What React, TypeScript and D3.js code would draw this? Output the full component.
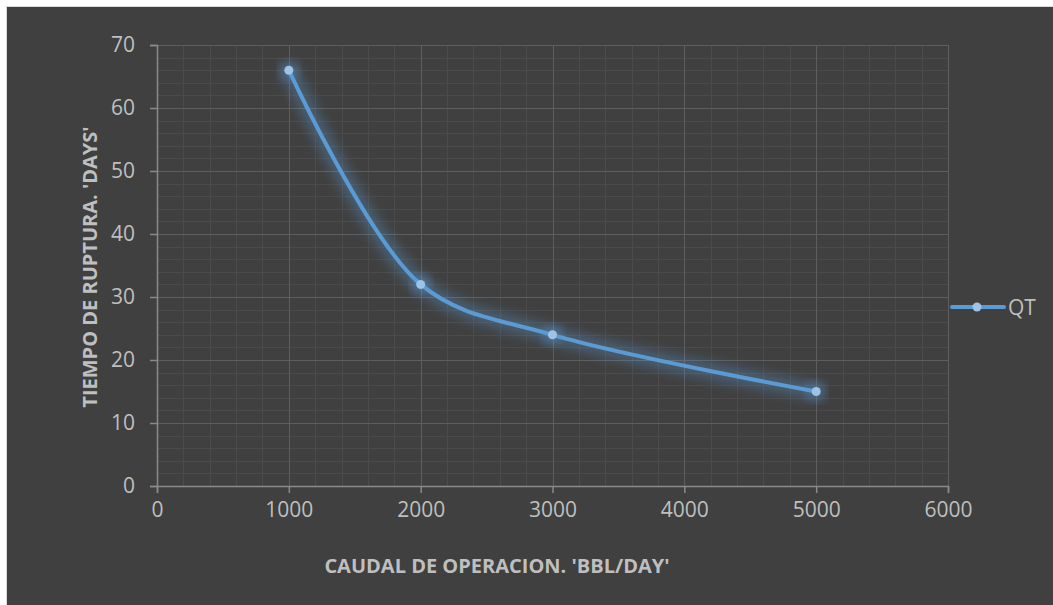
import { useEffect, useRef } from 'react';
import * as d3 from 'd3';

const WIDTH = 1053;
const HEIGHT = 605;

// series QT
const caudal = [1000, 2000, 3000, 5000];
const tiempo = [66, 32, 24, 15];
const seriesName = 'QT';

const xTicks = [0, 1000, 2000, 3000, 4000, 5000, 6000];
const yTicks = [0, 10, 20, 30, 40, 50, 60, 70];

const xTitle = "CAUDAL DE OPERACION. 'BBL/DAY'";
const yTitle = "TIEMPO DE RUPTURA. 'DAYS'";

const PLOT = { left: 157, right: 948, top: 45, bottom: 486 };
const FONT = '"Open Sans", "Liberation Sans", sans-serif';
const LINE = '#5b9bd5';
const TEXT = '#bfbfbf';

export default function App() {
  const svgRef = useRef<SVGSVGElement>(null);

  useEffect(() => {
    if (!svgRef.current) return;
    const svg = d3.select(svgRef.current);
    svg.selectAll('*').remove();

    const x = d3.scaleLinear().domain([0, 6000]).range([PLOT.left, PLOT.right]);
    const y = d3.scaleLinear().domain([0, 70]).range([PLOT.bottom, PLOT.top]);

    const defs = svg.append('defs');
    const glow = defs
      .append('filter')
      .attr('id', 'glow')
      .attr('x', '-20%')
      .attr('y', '-20%')
      .attr('width', '140%')
      .attr('height', '140%');
    glow.append('feGaussianBlur').attr('stdDeviation', 6);

    // background + frame
    svg.append('rect').attr('width', WIDTH).attr('height', HEIGHT).attr('fill', '#ffffff');
    svg
      .append('rect')
      .attr('x', 6.5)
      .attr('y', 6.5)
      .attr('width', WIDTH + 10)
      .attr('height', HEIGHT + 10)
      .attr('fill', '#404040')
      .attr('stroke', '#d9d9d9')
      .attr('stroke-width', 1);

    const g = svg.append('g');

    // minor grid
    const xMinor = d3.range(0, 6001, 200).filter((v) => v % 1000 !== 0);
    const yMinor = d3.range(0, 70.1, 2).filter((v) => v % 10 !== 0);
    g.selectAll('.xminor')
      .data(xMinor)
      .join('line')
      .attr('x1', (d) => Math.round(x(d)) + 0.5)
      .attr('x2', (d) => Math.round(x(d)) + 0.5)
      .attr('y1', PLOT.top)
      .attr('y2', PLOT.bottom)
      .attr('stroke', '#4b4b4b')
      .attr('stroke-width', 1);
    g.selectAll('.yminor')
      .data(yMinor)
      .join('line')
      .attr('x1', PLOT.left)
      .attr('x2', PLOT.right)
      .attr('y1', (d) => Math.round(y(d)) + 0.5)
      .attr('y2', (d) => Math.round(y(d)) + 0.5)
      .attr('stroke', '#4b4b4b')
      .attr('stroke-width', 1);

    // major grid
    g.selectAll('.xmajor')
      .data(xTicks.slice(1))
      .join('line')
      .attr('x1', (d) => Math.round(x(d)) + 0.5)
      .attr('x2', (d) => Math.round(x(d)) + 0.5)
      .attr('y1', PLOT.top)
      .attr('y2', PLOT.bottom)
      .attr('stroke', '#5e5e5e')
      .attr('stroke-width', 1);
    g.selectAll('.ymajor')
      .data(yTicks.slice(1))
      .join('line')
      .attr('x1', PLOT.left)
      .attr('x2', PLOT.right)
      .attr('y1', (d) => Math.round(y(d)) + 0.5)
      .attr('y2', (d) => Math.round(y(d)) + 0.5)
      .attr('stroke', '#5e5e5e')
      .attr('stroke-width', 1);

    // axes
    const xAxis = g
      .append('g')
      .attr('transform', `translate(0,${PLOT.bottom})`)
      .call(d3.axisBottom(x).tickValues(xTicks).tickSize(7).tickPadding(9).tickFormat(d3.format('d')));
    const yAxis = g
      .append('g')
      .attr('transform', `translate(${PLOT.left},0)`)
      .call(d3.axisLeft(y).tickValues(yTicks).tickSize(7).tickPadding(15).tickFormat(d3.format('d')));
    [xAxis, yAxis].forEach((a) => {
      a.select('.domain').attr('stroke', '#8a8a8a').attr('stroke-width', 1.5);
      a.selectAll('.tick line').attr('stroke', '#8a8a8a').attr('stroke-width', 1.5);
      a.selectAll('.tick text')
        .attr('fill', TEXT)
        .style('font-family', FONT)
        .style('font-size', '21px');
    });

    // axis titles
    svg
      .append('text')
      .attr('x', 497)
      .attr('y', 573)
      .attr('text-anchor', 'middle')
      .attr('fill', TEXT)
      .style('font-family', FONT)
      .style('font-size', '20px')
      .style('font-weight', 'bold')
      .text(xTitle);
    svg
      .append('text')
      .attr('transform', 'translate(97,267) rotate(-90)')
      .attr('text-anchor', 'middle')
      .attr('fill', TEXT)
      .style('font-family', FONT)
      .style('font-size', '20px')
      .style('font-weight', 'bold')
      .text(yTitle);

    // series
    const pts: [number, number][] = caudal.map((c, i) => [c, tiempo[i]]);
    const line = d3
      .line<[number, number]>()
      .x((d) => x(d[0]))
      .y((d) => y(d[1]))
      .curve(d3.curveCatmullRom.alpha(0.5));

    g.append('path')
      .attr('d', line(pts))
      .attr('fill', 'none')
      .attr('stroke', LINE)
      .attr('stroke-width', 16)
      .attr('stroke-opacity', 0.35)
      .attr('filter', 'url(#glow)');
    g.selectAll('.glowdot')
      .data(pts)
      .join('circle')
      .attr('cx', (d) => x(d[0]))
      .attr('cy', (d) => y(d[1]))
      .attr('r', 9)
      .attr('fill', LINE)
      .attr('opacity', 0.5)
      .attr('filter', 'url(#glow)');
    g.append('path')
      .attr('d', line(pts))
      .attr('fill', 'none')
      .attr('stroke', LINE)
      .attr('stroke-width', 4)
      .attr('stroke-linecap', 'round');
    g.selectAll('.dot')
      .data(pts)
      .join('circle')
      .attr('cx', (d) => x(d[0]))
      .attr('cy', (d) => y(d[1]))
      .attr('r', 4.5)
      .attr('fill', '#9dc3e6');

    // legend
    const lg = svg.append('g').attr('transform', 'translate(950,307)');
    lg.append('line')
      .attr('x1', 2)
      .attr('x2', 54)
      .attr('stroke', LINE)
      .attr('stroke-width', 4)
      .attr('stroke-linecap', 'round');
    lg.append('circle').attr('cx', 27).attr('r', 4.5).attr('fill', '#9dc3e6');
    lg.append('text')
      .attr('x', 58)
      .attr('dy', '0.36em')
      .attr('fill', TEXT)
      .style('font-family', FONT)
      .style('font-size', '21px')
      .text(seriesName);
  }, []);

  return (
    <svg
      ref={svgRef}
      width={WIDTH}
      height={HEIGHT}
      style={{ position: 'absolute', left: 0, top: 0, display: 'block' }}
    />
  );
}
